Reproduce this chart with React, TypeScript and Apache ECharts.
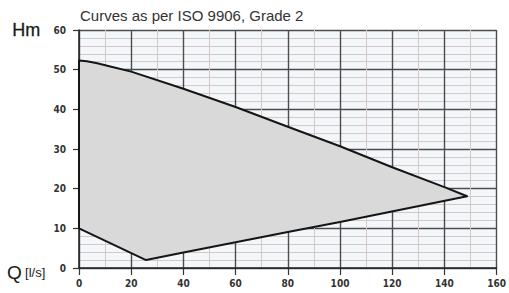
import React, { useEffect, useRef } from "react";
import * as echarts from "echarts";

const titleText = "Curves as per ISO 9906, Grade 2";
const yName = "Hm";
const xName = "Q";
const xUnit = "[l/s]";

// Upper curve (max head), left to right
const upperQ = [0, 3, 7, 12, 20, 40, 60, 80, 100, 120, 140, 148.7];
const upperH = [52.3, 52.1, 51.6, 50.8, 49.5, 45.2, 40.6, 35.6, 30.7, 25.4, 20.4, 18.1];
// Lower curve (min head), right to left
const lowerQ = [148.7, 100, 80, 60, 40, 25.7, 0];
const lowerH = [18.1, 11.6, 9.1, 6.5, 3.9, 2.0, 10.0];

const xTicks = [0, 20, 40, 60, 80, 100, 120, 140, 160];
const yTicks = [0, 10, 20, 30, 40, 50, 60];

export default function App() {
  const ref = useRef<HTMLDivElement>(null);
  useEffect(() => {
    if (!ref.current) return;
    const chart = echarts.init(ref.current, undefined, { renderer: "svg" });
    const poly: number[][] = [];
    upperQ.forEach((q, i) => poly.push([q, upperH[i]]));
    lowerQ.forEach((q, i) => poly.push([q, lowerH[i]]));
    const labelStyle = {
      fontFamily: "DejaVu Sans Condensed",
      fontWeight: "bold" as const,
      fontSize: 10,
      color: "#333",
    };
    chart.setOption({
      animation: false,
      grid: {
        left: 79,
        right: 9,
        top: 30,
        bottom: 25,
        show: true,
        backgroundColor: "#f3f7fa",
        borderWidth: 0,
      },
      graphic: [
        {
          type: "text",
          left: 80,
          top: 8,
          style: {
            text: titleText,
            fontSize: 15,
            fontFamily: "Liberation Sans",
            fill: "#333",
          },
        },
        {
          type: "text",
          left: 12,
          top: 21,
          style: {
            text: yName,
            fontSize: 18,
            fontFamily: "Liberation Sans",
            fill: "#1a1a1a",
            stroke: "#1a1a1a",
            lineWidth: 0.3,
          },
        },
        {
          type: "text",
          left: 7,
          top: 263,
          style: {
            text: "{q|" + xName + "} {u|" + xUnit + "}",
            rich: {
              q: { fontSize: 19, fontFamily: "Liberation Sans", fill: "#1a1a1a" },
              u: { fontSize: 13, fontFamily: "Liberation Sans", fill: "#1a1a1a" },
            },
          },
        },
      ],
      xAxis: {
        type: "value",
        min: xTicks[0],
        max: xTicks[xTicks.length - 1],
        interval: 20,
        axisLine: { show: true, lineStyle: { color: "#222", width: 1.5 } },
        axisTick: { show: true, length: 7, lineStyle: { color: "#333", width: 1.2 } },
        axisLabel: { ...labelStyle, margin: 10 },
        splitLine: { show: true, lineStyle: { color: "#4d4d4d", width: 1.4 } },
        minorTick: { show: false, splitNumber: 2 },
        minorSplitLine: { show: true, lineStyle: { color: "#d5c8c8", width: 1 } },
      },
      yAxis: {
        type: "value",
        min: yTicks[0],
        max: yTicks[yTicks.length - 1],
        interval: 10,
        axisLine: { show: true, lineStyle: { color: "#222", width: 1.5 } },
        axisTick: { show: true, length: 6, lineStyle: { color: "#333", width: 1.2 } },
        axisLabel: { ...labelStyle, margin: 13 },
        splitLine: { show: true, lineStyle: { color: "#4d4d4d", width: 1.4 } },
        minorTick: { show: false, splitNumber: 5 },
        minorSplitLine: { show: true, lineStyle: { color: "#d5c8c8", width: 1 } },
      },
      series: [
        {
          type: "custom",
          coordinateSystem: "cartesian2d",
          data: [[0, 0]],
          renderItem: (params: any, api: any) => {
            const pts = poly.map((p) => api.coord(p));
            return {
              type: "polygon",
              shape: { points: pts },
              style: {
                fill: "#d9d9d9",
                stroke: "#151515",
                lineWidth: 2,
                lineJoin: "round",
              },
            };
          },
          z: 5,
        },
      ],
    });
    return () => chart.dispose();
  }, []);
  return <div ref={ref} style={{ width: 509, height: 293, position: "absolute", left: 0, top: 0 }} />;
}
